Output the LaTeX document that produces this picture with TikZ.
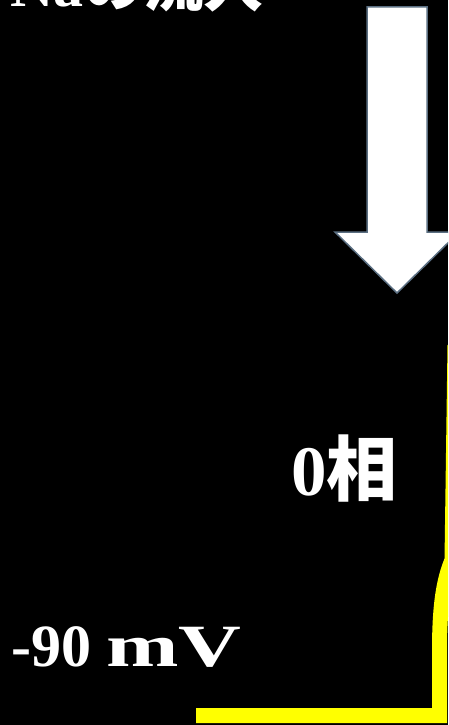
\documentclass[tikz,border=0pt]{standalone}
\usepackage{fontspec}
\setmainfont{Liberation Serif}
\newfontfamily\jp{Noto Sans CJK JP}
\definecolor{arrowedge}{HTML}{5B6F82}
\definecolor{apyellow}{HTML}{FFFF00}
\begin{document}
\begin{tikzpicture}[x=1pt,y=1pt,
  lbl/.style={text=white,inner sep=0pt,anchor=base west,font=\bfseries},
  bigarrow/.style={fill=white,draw=arrowedge,line width=1.5pt,line join=miter},
  trace/.style={draw=apyellow,line width=15pt,line join=miter,line cap=butt}]
\fill[black] (0,0) rectangle (448,-725);
\useasboundingbox (0,0) rectangle (448,-725);
\clip (0,0) rectangle (448,-725);
% Na inflow arrow
\draw[bigarrow] (367,-7) -- (427,-7) -- (427,-232) -- (459,-232) -- (397,-293)
  -- (335,-232) -- (367,-232) -- cycle;
% action potential trace
\coordinate (rest) at (196,-715.5);
\coordinate (corner) at (439.5,-715.5);
\coordinate (bend) at (439.5,-650);
\coordinate (upper) at (452,-560);
\coordinate (peak) at (455,-345);
\draw[trace] (rest) -- (corner) -- (bend) .. controls (439.5,-595) and (446,-575) .. (upper) -- (peak);
% labels
\node[lbl,font=\bfseries\fontsize{60}{60}\selectfont] (title) at (10,-7) {Na{\jp の流入}};
\node[lbl,font=\bfseries\fontsize{71}{71}\selectfont] (phase) at (291,-495) {0{\jp 相}};
\node[lbl,font=\bfseries\fontsize{60}{60}\selectfont] (rest label) at (11,-666) {-90 \scalebox{1.45}[1]{mV}};
\end{tikzpicture}
\end{document}
